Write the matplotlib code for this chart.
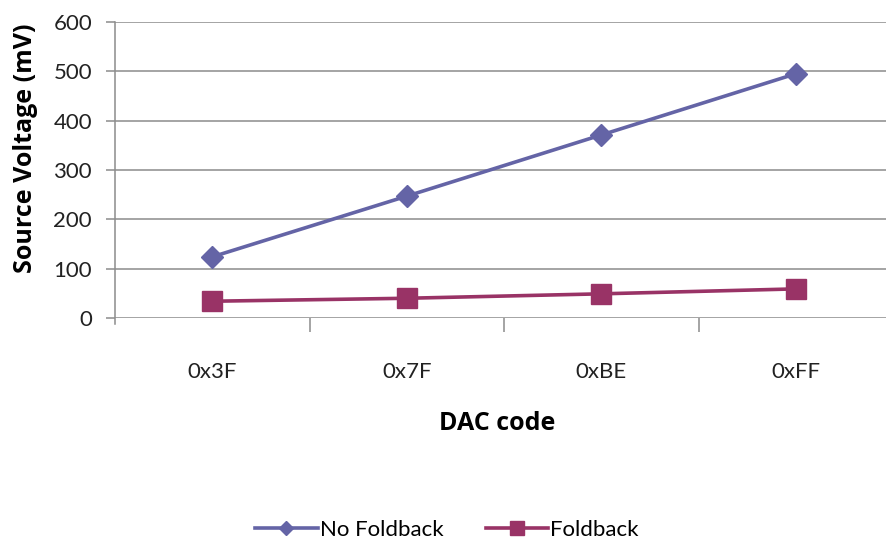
import numpy as np
import matplotlib
matplotlib.use("Agg")
import matplotlib.pyplot as plt

# data
dac_codes = ["0x3F", "0x7F", "0xBE", "0xFF"]
no_foldback = [124, 247, 371, 495]
foldback = [34, 40, 49, 59]

plt.rcParams['font.family'] = ['Lato', 'DejaVu Sans']

fig = plt.figure(figsize=(8.86, 5.46), dpi=100)
# plot area: y axis at x=115px, 0 at y=318px, 600 at y=22px
ax = fig.add_axes([115 / 886, 1 - 318 / 546, (893 - 115) / 886, (318 - 22) / 546])

x = np.arange(len(dac_codes))
ax.plot(x, no_foldback, color="#6464a6", lw=2.6, marker="D", ms=11,
        label="No Foldback")
ax.plot(x, foldback, color="#993366", lw=2.6, marker="s", ms=15,
        label="Foldback")

ax.set_xlim(-0.5, 3.5)
ax.set_ylim(0, 600)
ax.set_yticks(range(0, 601, 100))
ax.set_xticks(x)
ax.set_xticklabels(dac_codes)
ax.set_xticks([0.5, 1.5, 2.5], minor=True)

grid_col = "#8c8c8c"
ax.grid(axis="y", color=grid_col, lw=1.1)
ax.set_axisbelow(True)
for side in ["top", "right", "bottom"]:
    ax.spines[side].set_visible(False)
ax.spines["left"].set_color(grid_col)
ax.spines["left"].set_linewidth(1.1)
ax.spines["left"].set_bounds(-12, 600)

ax.tick_params(axis="y", length=6.5, color=grid_col, width=1.1, labelsize=16,
               labelcolor="#222222", pad=10)
ax.tick_params(axis="x", which="major", length=0, labelsize=16,
               labelcolor="#222222", pad=32)
ax.tick_params(axis="x", which="minor", length=10, color=grid_col, width=1.1,
               direction="out")

label_font = ['Open Sans', 'DejaVu Sans']
ax.set_xlabel("DAC code", fontsize=18, fontweight="bold", family=label_font)
ax.xaxis.set_label_coords((497 - 115) / (893 - 115), -(411 - 318) / (318 - 22))
ax.set_ylabel("Source Voltage (mV)", fontsize=18, fontweight="bold",
              family=label_font)
ax.yaxis.set_label_coords(-(115 - 38) / (893 - 115), (318 - 148) / (318 - 22))

fig.legend(loc="center", bbox_to_anchor=(447 / 886, 1 - 530 / 546), ncol=2,
           frameon=False, fontsize=16, handlelength=2.8, columnspacing=1.9,
           handletextpad=0.1, markerscale=0.65)

fig.savefig("out.png", dpi=100)
